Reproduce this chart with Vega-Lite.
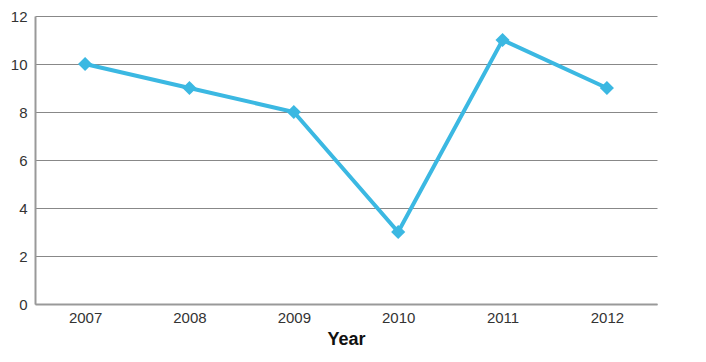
{
  "$schema": "https://vega.github.io/schema/vega-lite/v6.json",
  "width": 622,
  "height": 288,
  "autosize": {"type": "none"},
  "padding": {"left": 35, "top": 16, "right": 49, "bottom": 58},
  "background": "white",
  "config": {
    "view": {"stroke": null},
    "font": "Liberation Sans"
  },
  "data": {
    "values": [
      {"Year": "2007", "Value": 10},
      {"Year": "2008", "Value": 9},
      {"Year": "2009", "Value": 8},
      {"Year": "2010", "Value": 3},
      {"Year": "2011", "Value": 11},
      {"Year": "2012", "Value": 9}
    ]
  },
  "encoding": {
    "x": {
      "field": "Year",
      "type": "ordinal",
      "scale": {"type": "point", "padding": 0.48},
      "axis": {
        "title": "Year",
        "titleFont": "Liberation Sans",
        "titleFontSize": 18,
        "titleFontWeight": "bold",
        "titleColor": "#111",
        "titlePadding": 5,
        "labelAngle": 0,
        "labelFontSize": 15,
        "labelColor": "#333",
        "labelPadding": 6,
        "ticks": false,
        "domainColor": "#999",
        "domainWidth": 2,
        "grid": false
      }
    },
    "y": {
      "field": "Value",
      "type": "quantitative",
      "scale": {"domain": [0, 12], "nice": false},
      "axis": {
        "title": null,
        "values": [0, 2, 4, 6, 8, 10, 12],
        "labelFontSize": 15,
        "labelColor": "#333",
        "labelPadding": 8,
        "ticks": false,
        "domainColor": "#999",
        "domainWidth": 2,
        "grid": true,
        "gridColor": "#888",
        "gridWidth": 1
      }
    }
  },
  "layer": [
    {
      "mark": {"type": "line", "color": "#3bb8e2", "strokeWidth": 4}
    },
    {
      "mark": {"type": "point", "shape": "diamond", "filled": true, "color": "#3bb8e2", "size": 200, "opacity": 1}
    }
  ]
}
